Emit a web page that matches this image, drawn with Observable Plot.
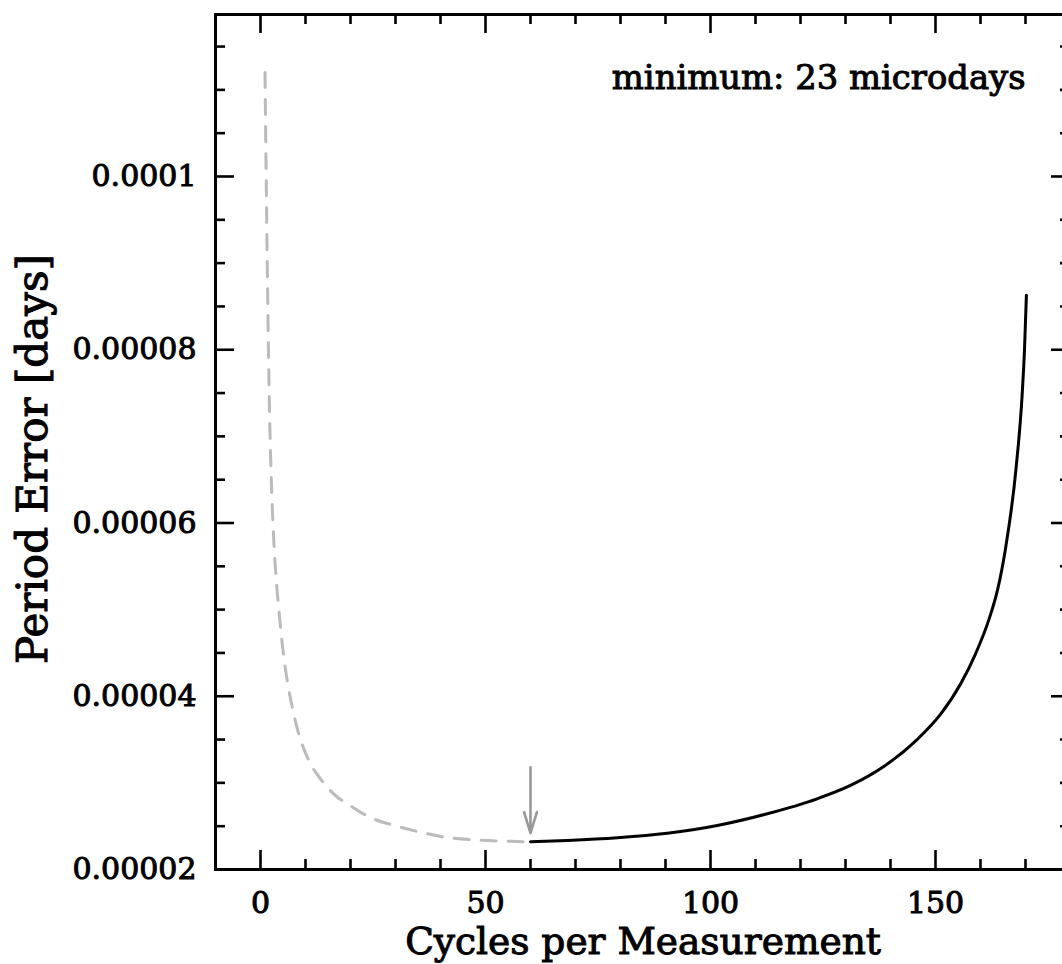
<!DOCTYPE html>
<html>
<head>
<meta charset="utf-8">
<script src="https://cdn.jsdelivr.net/npm/d3@7"></script>
<script src="https://cdn.jsdelivr.net/npm/@observablehq/plot@0.6"></script>
<style>
  html, body { margin: 0; padding: 0; overflow: hidden; background: #fff; width: 1062px; height: 964px; }
  #chart svg { overflow: hidden; max-width: none; }
  #chart svg text { stroke: #000; stroke-width: 1px; }
</style>
</head>
<body>
<div id="chart"></div>
<script>
// ---- data (period error in days) ----
const dashedCycles = [1, 1.5, 2, 2.5, 3.1, 3.6, 4.1, 4.8, 5.5, 6.3, 7.2, 8.1, 9.5, 11.1, 13, 14.8, 17, 19.3, 24.4, 29.6, 35.6, 41.5, 48.1, 55.6, 60];
const dashedError = [0.000112, 0.00009, 0.000073, 0.0000635, 0.0000566, 0.0000528, 0.0000499, 0.0000462, 0.0000433, 0.0000407, 0.0000384, 0.0000364, 0.0000341, 0.0000322, 0.0000307, 0.0000295, 0.0000284, 0.0000276, 0.000026, 0.0000251, 0.0000243, 0.0000237, 0.0000234, 0.00002325, 0.0000232];
const solidCycles = [60, 68.2, 79.3, 90.4, 101.5, 112.6, 123.7, 131.1, 138.5, 145.9, 151.1, 155.6, 158.9, 161.9, 163.8, 165.6, 167.9, 169.3, 169.8, 170.2];
const solidError = [0.0000232, 0.00002335, 0.00002366, 0.00002418, 0.00002508, 0.00002643, 0.00002816, 0.0000297, 0.00003189, 0.000035, 0.0000379, 0.00004144, 0.0000449, 0.0000489, 0.0000523, 0.00005718, 0.0000663, 0.0000752, 0.0000803, 0.0000863];
const arrowCycles = [60];
const arrowFrom = [0.0000318];
const arrowTo = [0.0000242];

// ---- axes ----
const xDomain = [-10, 180];
const yDomain = [0.00002, 0.0001187];
const xMajor = [0, 50, 100, 150];
const xMajorLabels = ["0", "50", "100", "150"];
const xMinor = [10, 20, 30, 40, 60, 70, 80, 90, 110, 120, 130, 140, 160, 170];
const yMajor = [0.00002, 0.00004, 0.00006, 0.00008, 0.0001];
const yMajorLabels = ["0.00002", "0.00004", "0.00006", "0.00008", "0.0001"];
const yMinor = [0.000025, 0.00003, 0.000035, 0.000045, 0.00005, 0.000055, 0.000065, 0.00007, 0.000075, 0.000085, 0.00009, 0.000095, 0.000105, 0.00011, 0.000115];
const xLabel = ["Cycles per Measurement"];
const yLabel = ["Period Error [days]"];
const note = ["minimum: 23 microdays"];

// ---- layout ----
const W = 1062, H = 964;
const mL = 215, mR = -8, mT = 14, mB = 95;   // right frame edge lies just outside the window
const pw = W - mL - mR, ph = H - mT - mB;
const majorLen = 19, minorLen = 10;

const dashed = dashedCycles.map((c, i) => ({c, e: dashedError[i]}));
const solid = solidCycles.map((c, i) => ({c, e: solidError[i]}));
const arrows = arrowCycles.map((c, i) => ({c, y1: arrowFrom[i], y2: arrowTo[i]}));

const ink = "#000";
const tickW = 2.6;

const chart = Plot.plot({
  width: W,
  height: H,
  marginLeft: mL,
  marginRight: mR,
  marginTop: mT,
  marginBottom: mB,
  style: {fontFamily: "'DejaVu Serif', serif", fontSize: "30px", fontWeight: "normal", color: "#000", background: "#fff", overflow: "hidden"},
  x: {domain: xDomain, range: [mL, W - mR]},
  y: {domain: yDomain},
  marks: [
    // ticks, inward on all four sides
    Plot.tickX(xMajor, {x: d => d, insetTop: ph - majorLen, stroke: ink, strokeWidth: tickW}),
    Plot.tickX(xMajor, {x: d => d, insetBottom: ph - majorLen, stroke: ink, strokeWidth: tickW}),
    Plot.tickX(xMinor, {x: d => d, insetTop: ph - minorLen, stroke: ink, strokeWidth: tickW}),
    Plot.tickX(xMinor, {x: d => d, insetBottom: ph - minorLen, stroke: ink, strokeWidth: tickW}),
    Plot.tickY(yMajor, {y: d => d, insetRight: pw - majorLen, stroke: ink, strokeWidth: tickW}),
    Plot.tickY(yMajor, {y: d => d, insetLeft: pw - majorLen, stroke: ink, strokeWidth: tickW}),
    Plot.tickY(yMinor, {y: d => d, insetRight: pw - minorLen, stroke: ink, strokeWidth: tickW}),
    Plot.tickY(yMinor, {y: d => d, insetLeft: pw - minorLen, stroke: ink, strokeWidth: tickW}),
    // tick labels
    Plot.axisX({ticks: xMajor, tickSize: 0, tickPadding: 22, label: null,
      tickFormat: d => xMajorLabels[xMajor.indexOf(d)]}),
    Plot.axisY({ticks: yMajor, tickSize: 0, tickPadding: 19, label: null,
      tickFormat: d => yMajorLabels[yMajor.indexOf(d)]}),
    // curves
    Plot.line(dashed, {x: "c", y: "e", stroke: "#bbbbbb", strokeWidth: 3, strokeDasharray: "15,12", curve: "monotone-x"}),
    Plot.line(solid, {x: "c", y: "e", stroke: ink, strokeWidth: 3, curve: "monotone-x"}),
    Plot.arrow(arrows, {x: "c", y1: "y1", y2: "y2", stroke: "#999999", strokeWidth: 2.6, headLength: 40, headAngle: 34}),
    // frame
    Plot.frame({stroke: ink, strokeWidth: 3}),
    // texts
    Plot.text(note, {text: d => d, frameAnchor: "top-right", dx: -45, dy: 50, textAnchor: "end", fontSize: 33.8}),
    Plot.text(xLabel, {text: d => d, frameAnchor: "bottom", dy: 84, textAnchor: "middle", fontSize: 37.5}),
    Plot.text(yLabel, {text: d => d, frameAnchor: "left", dx: -182, dy: 17, rotate: -90, textAnchor: "middle", fontSize: 42})
  ]
});
document.getElementById("chart").appendChild(chart);
</script>
</body>
</html>
